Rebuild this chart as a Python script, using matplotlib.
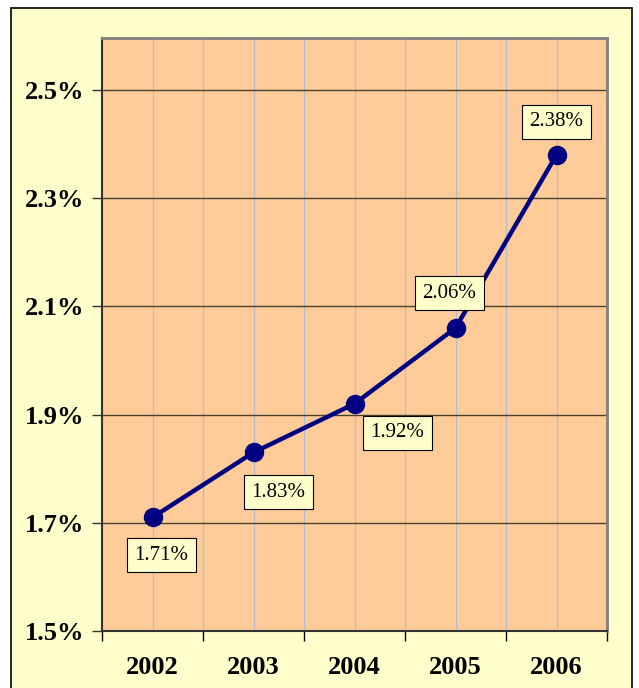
import matplotlib
matplotlib.use("Agg")
import matplotlib.pyplot as plt
from matplotlib.patches import Rectangle
import numpy as np

years = ["2002", "2003", "2004", "2005", "2006"]
values = [1.71, 1.83, 1.92, 2.06, 2.38]
labels = ["1.71%", "1.83%", "1.92%", "2.06%", "2.38%"]
yticks = [1.5, 1.7, 1.9, 2.1, 2.3, 2.5]
ytick_labels = ["1.5%", "1.7%", "1.9%", "2.1%", "2.3%", "2.5%"]
label_offsets_px = [(9, -38), (25, -40), (43, -29), (-6, 35), (0, 33)]

W, H = 639, 688
fig = plt.figure(figsize=(W / 100, H / 100), dpi=100, facecolor="white")
bg = Rectangle((11 / W, -5 / H), 621 / W, 685 / H, transform=fig.transFigure,
               facecolor="#FFFFCC", edgecolor="black", linewidth=1.2, zorder=-10)
fig.add_artist(bg)

ax = fig.add_axes([102 / W, (H - 631) / H, 505 / W, 593 / H])
ax.set_zorder(5)
ax.set_facecolor("#FFCC99")
x = np.arange(len(years))
ax.set_xlim(-0.5, len(years) - 0.5)
ax.set_ylim(1.5, 2.596)

# gridlines
for xv in np.arange(-0.5, len(years), 0.5):
    ax.axvline(xv, color="#B4BCD0", linewidth=0.9, zorder=1)
for yv in yticks[1:]:
    ax.axhline(yv, color="#4A4030", linewidth=1.0, zorder=1)

ax.plot(x, values, color="#000080", linewidth=3.2, marker="o", markersize=13,
        markerfacecolor="#000080", markeredgecolor="#000080", zorder=3)

for xi, v, lab, (dx, dy) in zip(x, values, labels, label_offsets_px):
    ax.annotate(lab, (xi, v), xytext=(dx, dy), textcoords="offset pixels",
                ha="center", va="center", fontsize=15, family="Liberation Serif",
                bbox=dict(boxstyle="square,pad=0.36", facecolor="#FFFFCC", edgecolor="black", linewidth=0.8),
                zorder=4)

ax.set_yticks(yticks)
ax.set_yticklabels(ytick_labels, fontsize=19, fontweight="bold", family="Liberation Serif")
ax.set_xticks(x)
ax.set_xticklabels(years, fontsize=19, fontweight="bold", family="Liberation Serif")
ax.tick_params(axis="x", which="major", length=0, pad=18)
ax.set_xticks(np.arange(-0.5, len(years), 1.0), minor=True)
ax.tick_params(axis="x", which="minor", length=7, width=1, color="black", direction="out")
ax.tick_params(axis="y", which="major", length=7, width=1, color="#333333", direction="out", pad=6)

for s in ["top", "right"]:
    ax.spines[s].set_color("#808080")
    ax.spines[s].set_linewidth(2)
for s in ["left", "bottom"]:
    ax.spines[s].set_color("#333333")
    ax.spines[s].set_linewidth(1.5)

fig.savefig("out.png", dpi=100, facecolor="white")
